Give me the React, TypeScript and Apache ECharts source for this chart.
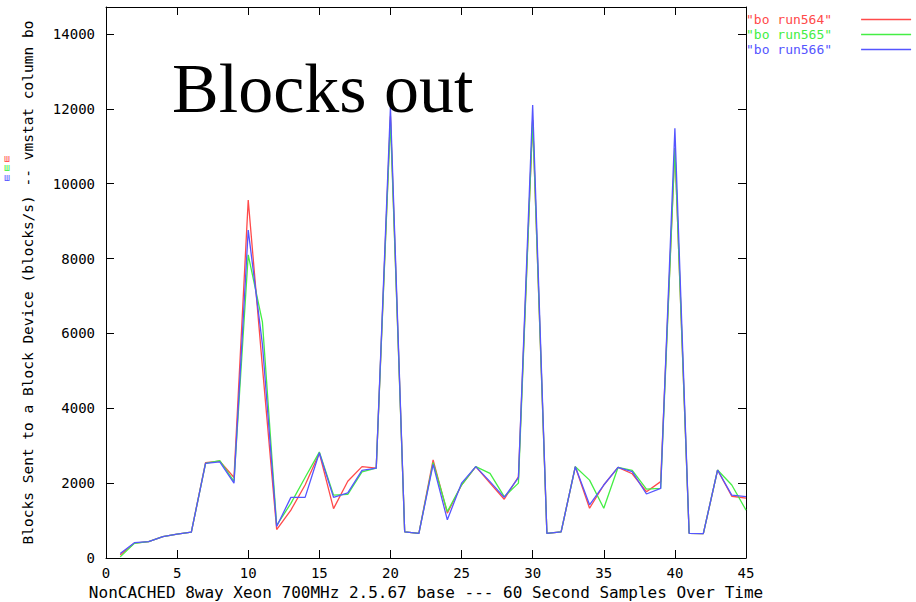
import React, { useEffect, useRef } from "react";
import * as echarts from "echarts";

// Sample number (60 second samples)
const samples = [
  1, 2, 3, 4, 5, 6, 7, 8, 9, 10, 11, 12, 13, 14, 15, 16, 17, 18, 19, 20, 21, 22, 23,
  24, 25, 26, 27, 28, 29, 30, 31, 32, 33, 34, 35, 36, 37, 38, 39, 40, 41, 42, 43, 44, 45,
];

const seriesNames = ["bo run564", "bo run565", "bo run566"];
const seriesColors = ["#ff4a4a", "#44ee44", "#5555ff"];

const run564 = [
  80, 400, 440, 570, 640, 690, 2550, 2590, 2150, 9560, 5100, 760, 1280, 1950, 2800, 1320,
  2050, 2440, 2400, 11800, 700, 660, 2620, 1200, 1950, 2440, 2000, 1570, 2170, 11700, 660,
  700, 2440, 1330, 1950, 2420, 2250, 1770, 2040, 10950, 660, 650, 2350, 1650, 1600,
];
const run565 = [
  30, 390, 440, 570, 640, 690, 2530, 2600, 2050, 8100, 6300, 870, 1460, 2150, 2830, 1680,
  1700, 2300, 2400, 11700, 700, 660, 2550, 1240, 1950, 2440, 2260, 1640, 2000, 11700, 660,
  700, 2440, 2080, 1330, 2420, 2340, 1840, 1860, 10950, 660, 650, 2350, 1950, 1280,
];
const run566 = [
  120, 410, 440, 570, 640, 690, 2530, 2570, 2000, 8760, 5700, 840, 1620, 1620, 2810, 1620,
  1740, 2340, 2400, 12050, 700, 660, 2500, 1020, 2000, 2440, 2040, 1620, 2150, 12100, 660,
  700, 2440, 1420, 1950, 2420, 2310, 1710, 1860, 11480, 660, 650, 2350, 1680, 1640,
];

const xMin = 0;
const xMax = 45;
const xStep = 5;
const yMin = 0;
const yMax = 14720;
const yStep = 2000;

const titleText = "Blocks out";
const xName = "NonCACHED 8way Xeon 700MHz 2.5.67 base --- 60 Second Samples Over Time";
const yName = "Blocks Sent to a Block Device (blocks/s) -- vmstat column bo";

const MONO = "DejaVu Sans Mono";

export default function App() {
  const ref = useRef<HTMLDivElement>(null);

  useEffect(() => {
    if (!ref.current) return;
    const chart = echarts.init(ref.current, null, { renderer: "svg" });

    const allRuns = [run564, run565, run566];
    const axisLine = { show: true, onZero: false, lineStyle: { color: "#000", width: 1 } };
    const axisTick = { show: true, inside: true, length: 8, lineStyle: { color: "#000", width: 1 } };

    const option: any = {
      animation: false,
      backgroundColor: "#ffffff",
      grid: {
        left: 106,
        right: 170,
        top: 7,
        bottom: 44,
        containLabel: false,
        outerBoundsMode: "none",
      },
      xAxis: [
        {
          type: "value",
          position: "bottom",
          min: xMin,
          max: xMax,
          interval: xStep,
          axisLine,
          axisTick,
          splitLine: { show: false },
          axisLabel: { color: "#000", fontFamily: MONO, fontSize: 14, margin: 8 },
          name: xName,
          nameLocation: "middle",
          nameGap: 26,
          nameTextStyle: { color: "#000", fontFamily: MONO, fontSize: 16 },
        },
        {
          type: "value",
          position: "top",
          min: xMin,
          max: xMax,
          interval: xStep,
          axisLine,
          axisTick,
          splitLine: { show: false },
          axisLabel: { show: false },
        },
      ],
      yAxis: [
        {
          type: "value",
          position: "left",
          min: yMin,
          max: yMax,
          interval: yStep,
          axisLine,
          axisTick,
          splitLine: { show: false },
          axisLabel: {
            color: "#000",
            fontFamily: MONO,
            fontSize: 14,
            margin: 11,
            formatter: (v: number) => (v % yStep === 0 ? String(v) : ""),
          },
          name: yName,
          nameLocation: "middle",
          nameGap: 71,
          nameTextStyle: { color: "#000", fontFamily: MONO, fontSize: 14.5 },
        },
        {
          type: "value",
          position: "right",
          min: yMin,
          max: yMax,
          interval: yStep,
          axisLine,
          axisTick,
          splitLine: { show: false },
          axisLabel: { show: false },
        },
      ],
      legend: {
        orient: "vertical",
        left: 741,
        top: 8,
        align: "right",
        icon: "rect",
        itemWidth: 50,
        itemHeight: 1.4,
        itemGap: 2,
        selectedMode: false,
        formatter: (n: string) => `"${n}"`,
        textStyle: { fontFamily: MONO, fontSize: 13, lineHeight: 12, padding: [0, 24, 0, 0] },
        data: seriesNames.map((n, i) => ({ name: n, textStyle: { color: seriesColors[i] } })),
      },
      series: seriesNames.map((n, i) => ({
        name: n,
        type: "line",
        xAxisIndex: 0,
        yAxisIndex: 0,
        symbol: "none",
        showSymbol: false,
        color: seriesColors[i],
        lineStyle: { width: 1.3, color: seriesColors[i] },
        data: samples.map((s, k) => [s, allRuns[i][k]]),
        z: 2 + i,
      })),
      graphic: [
        {
          type: "text",
          left: 172,
          top: 53,
          style: {
            text: titleText,
            fontFamily: "Liberation Serif",
            fontSize: 70,
            fill: "#000",
          },
          z: 10,
        },
        ...seriesColors.map((c, i) => ({
          type: "text",
          x: 7,
          y: 158 + i * 9.5,
          style: {
            text: "ш",
            fontFamily: MONO,
            fontSize: 10,
            fill: c,
            align: "center",
            verticalAlign: "middle",
          },
        })),
      ],
    };

    chart.setOption(option);
    return () => chart.dispose();
  }, []);

  return (
    <div
      ref={ref}
      style={{ position: "fixed", left: 0, top: 0, width: 916, height: 602, background: "#fff" }}
    />
  );
}
